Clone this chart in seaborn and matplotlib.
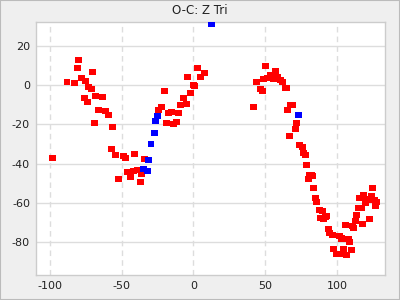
import matplotlib
matplotlib.use("Agg")
import matplotlib.pyplot as plt
import seaborn as sns
import pandas as pd
from matplotlib.ticker import MultipleLocator

# Red series (visual observations)
red_x = [-98.3, -87.9, -83.0, -80.2, -80.9, -78.1, -75.3, -70.4, -73.2, -71.1,
         -76.0, -73.9, -68.3, -63.5, -66.2, -61.4, -59.3, -69.0, -56.5, -57.2,
         -54.4, -48.8, -47.3, -41.1, -34.2, -46.0, -52.3, -43.9, -41.8, -39.1,
         -36.3, -37.0, -24.4, -22.3, -20.2, -18.8, -17.4, -15.3, -13.9, -11.9,
         -10.5, -9.1, -7.0, -4.9, -2.1, -4.2, 0.0, 0.7, 2.8, 4.9,
         7.7, 43.9, 50.2, 48.8, 51.6, 53.7, 57.2, 55.8, 58.6, 60.7,
         62.1, 46.7, 48.1, 64.2, 65.3, 41.8, 67.6, 69.0, 65.6, 71.8,
         71.1, 66.9, 73.9, 76.0, 76.7, 78.1, 78.8, 80.9, 82.3, 83.0,
         80.2, 83.7, 85.1, 85.8, 87.9, 90.0, 88.6, 90.7, 92.7, 92.1,
         94.1, 94.8, 96.9, 97.6, 99.7, 101.8, 101.8, 103.2, 104.6, 106.0,
         106.7, 108.1, 108.8, 110.2, 110.9, 111.6, 113.0, 113.7, 115.1, 115.8,
         117.2, 117.8, 118.5, 119.9, 120.6, 122.0, 122.7, 124.1, 124.8, 126.2,
         127.6, 126.9]
red_y = [-37.2, 1.5, 1.0, 12.8, 8.7, 3.6, 2.0, 6.6, -1.0, -2.0,
         -6.6, -8.7, -5.6, -6.1, -12.8, -13.3, -15.3, -19.4, -21.4, -32.7,
         -35.7, -36.2, -37.2, -35.2, -37.8, -44.4, -48.0, -46.9, -43.9, -43.4,
         -45.4, -49.5, -12.8, -11.2, -3.1, -19.4, -14.3, -13.8, -19.9, -18.9,
         -14.3, -10.2, -6.6, -9.7, -4.1, 4.1, 0.0, -0.5, 8.7, 4.1,
         6.1, 1.5, 9.7, 3.1, 3.6, 5.1, 7.1, 3.1, 4.1, 2.6,
         1.5, -2.0, -3.1, -1.5, -1.5, -11.2, -10.2, -10.2, -12.8, -19.4,
         -22.4, -26.0, -30.6, -31.6, -34.7, -35.7, -40.8, -45.9, -45.9, -46.4,
         -48.0, -52.6, -57.7, -59.7, -63.8, -64.3, -67.9, -68.4, -66.8, -67.3,
         -73.5, -75.5, -76.5, -83.7, -86.2, -86.2, -77.0, -78.1, -83.7, -71.4,
         -86.7, -78.6, -80.1, -84.2, -71.9, -73.0, -69.4, -66.3, -62.8, -57.7,
         -62.8, -70.9, -56.1, -60.2, -58.2, -58.7, -68.4, -56.6, -52.6, -58.7,
         -59.7, -61.7]

# Blue series
blue_x = [12.6, -27.2, -29.5, -31.2, -34.9, -32.1, -26.5, -25.1, 73.2]
blue_y = [31.1, -24.5, -30.1, -38.3, -42.9, -43.9, -18.4, -15.8, -15.3]

title = "O-C: Z Tri"
x_ticks = [-100, -50, 0, 50, 100]
y_ticks = [-80, -60, -40, -20, 0, 20]

df = pd.concat([
    pd.DataFrame({"x": red_x, "y": red_y, "s": "red"}),
    pd.DataFrame({"x": blue_x, "y": blue_y, "s": "blue"}),
], ignore_index=True)

sns.set_style("white")
plt.rcParams["font.family"] = ["DejaVu Sans"]

fig = plt.figure(figsize=(4, 3), dpi=100, facecolor="#efefef")
ax = fig.add_axes([0.089, 0.0833, 0.8735, 0.845])
ax.set_facecolor("white")

sns.scatterplot(data=df, x="x", y="y", hue="s",
                palette={"red": "#ff0000", "blue": "#0000ff"},
                marker="s", s=21, linewidth=0, legend=False, ax=ax, zorder=3)

ax.set_xlim(-110, 133.5)
ax.set_ylim(-96.8, 32.4)
ax.set_xticks(x_ticks)
ax.set_yticks(y_ticks)
ax.xaxis.set_minor_locator(MultipleLocator(10))
ax.yaxis.set_minor_locator(MultipleLocator(10))
ax.set_xticklabels([str(v) for v in x_ticks])
ax.set_yticklabels([str(v) for v in y_ticks])
ax.set_xlabel("")
ax.set_ylabel("")

ax.grid(False)
ax.yaxis.grid(True, which="major", color="#dddddd", linewidth=1, linestyle="-")
ax.xaxis.grid(True, which="major", color="#dddddd", linewidth=1, linestyle=(0, (4, 3)))
ax.set_axisbelow(True)

ax.tick_params(axis="both", which="major", direction="in", length=3.5, width=0.8,
               color="#222222", labelsize=8, labelcolor="#222222", pad=4)
ax.tick_params(axis="both", which="minor", direction="in", length=2.5, width=0.8,
               color="#222222")
ax.tick_params(top=False, right=False, which="both")

for side in ["left", "right", "top", "bottom"]:
    ax.spines[side].set_color("#cccccc")
    ax.spines[side].set_linewidth(1)

fig.text(0.5, 0.965, title, ha="center", va="center", fontsize=8.5, color="#222222")

border = plt.Rectangle((0, 0), 1, 1, transform=fig.transFigure, fill=False,
                       edgecolor="#bbbbbb", linewidth=1.5)
fig.patches.append(border)

fig.savefig("out.png", dpi=100, facecolor=fig.get_facecolor())
